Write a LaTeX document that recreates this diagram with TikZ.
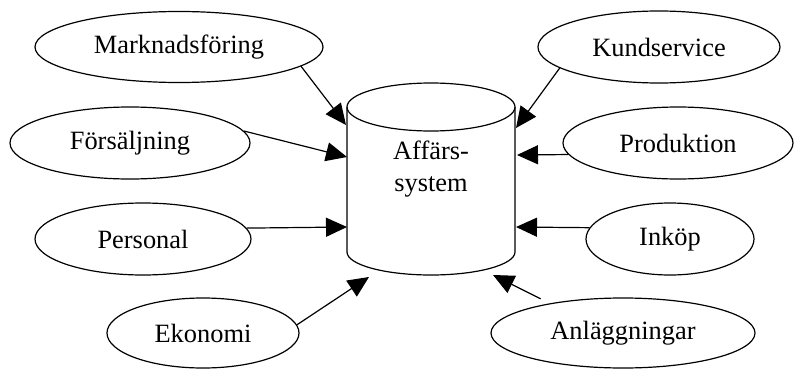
\documentclass[tikz,border=0pt]{standalone}
\usepackage{fontspec}
\setmainfont{Liberation Serif}
\usetikzlibrary{shapes.geometric,arrows.meta}

\begin{document}
\begin{tikzpicture}[x=1pt,y=-1pt,
	dept/.style={draw, ellipse, line width=1.2pt, inner sep=0pt},
	flow/.style={-{Triangle[length=21pt,width=19pt]}, line width=1.2pt},
	every node/.style={font=\fontsize{26.4}{32}\selectfont}]
	\useasboundingbox (0,0) rectangle (795,369);
	\draw[line width=1.2pt] (347,107) -- (347,252) arc[start angle=180, end angle=0, x radius=84, y radius=23] -- (515,107);
	\draw[line width=1.2pt] (431,107) ellipse [x radius=84, y radius=24];
	\node[align=center] (sys) at (431,169) {Affärs-\\system};
	\node[dept, minimum width=288pt, minimum height=71pt] (mark) at (179,47) {Marknadsföring};
	\node[dept, minimum width=240pt, minimum height=72pt] (fors) at (130,143) {Försäljning};
	\node[dept, minimum width=216pt, minimum height=72pt] (pers) at (143,239) {Personal};
	\node[dept, minimum width=192pt, minimum height=70pt] (eko) at (203,333) {Ekonomi};
	\node[dept, minimum width=242pt, minimum height=72pt] (kund) at (659,47) {Kundservice};
	\node[dept, minimum width=230pt, minimum height=72pt] (prod) at (678,143) {Produktion};
	\node[dept, minimum width=168pt, minimum height=72pt] (ink) at (670,239) {Inköp};
	\node[dept, minimum width=264pt, minimum height=70pt] (anl) at (623,333) {Anläggningar};
	\coordinate (tMark) at (346,125);
	\coordinate (tFors) at (347,157);
	\coordinate (tPers) at (347,227);
	\coordinate (tEko) at (369,277);
	\coordinate (tKund) at (516,128);
	\coordinate (tProd) at (517,155);
	\coordinate (tInk) at (516,227);
	\coordinate (tAnl) at (493,275);
	\draw[flow] (mark.-9) -- (tMark);
	\draw[flow] (fors.6) -- (tFors);
	\draw[flow] (pers.6) -- (tPers);
	\draw[flow] (eko.5) -- (tEko);
	\draw[flow] (kund.-168) -- (tKund);
	\draw[flow] (prod.186) -- (tProd);
	\draw[flow] (ink.172) -- (tInk);
	\draw[flow, shorten <=10pt] (anl.158) -- (tAnl);
\end{tikzpicture}
\end{document}
